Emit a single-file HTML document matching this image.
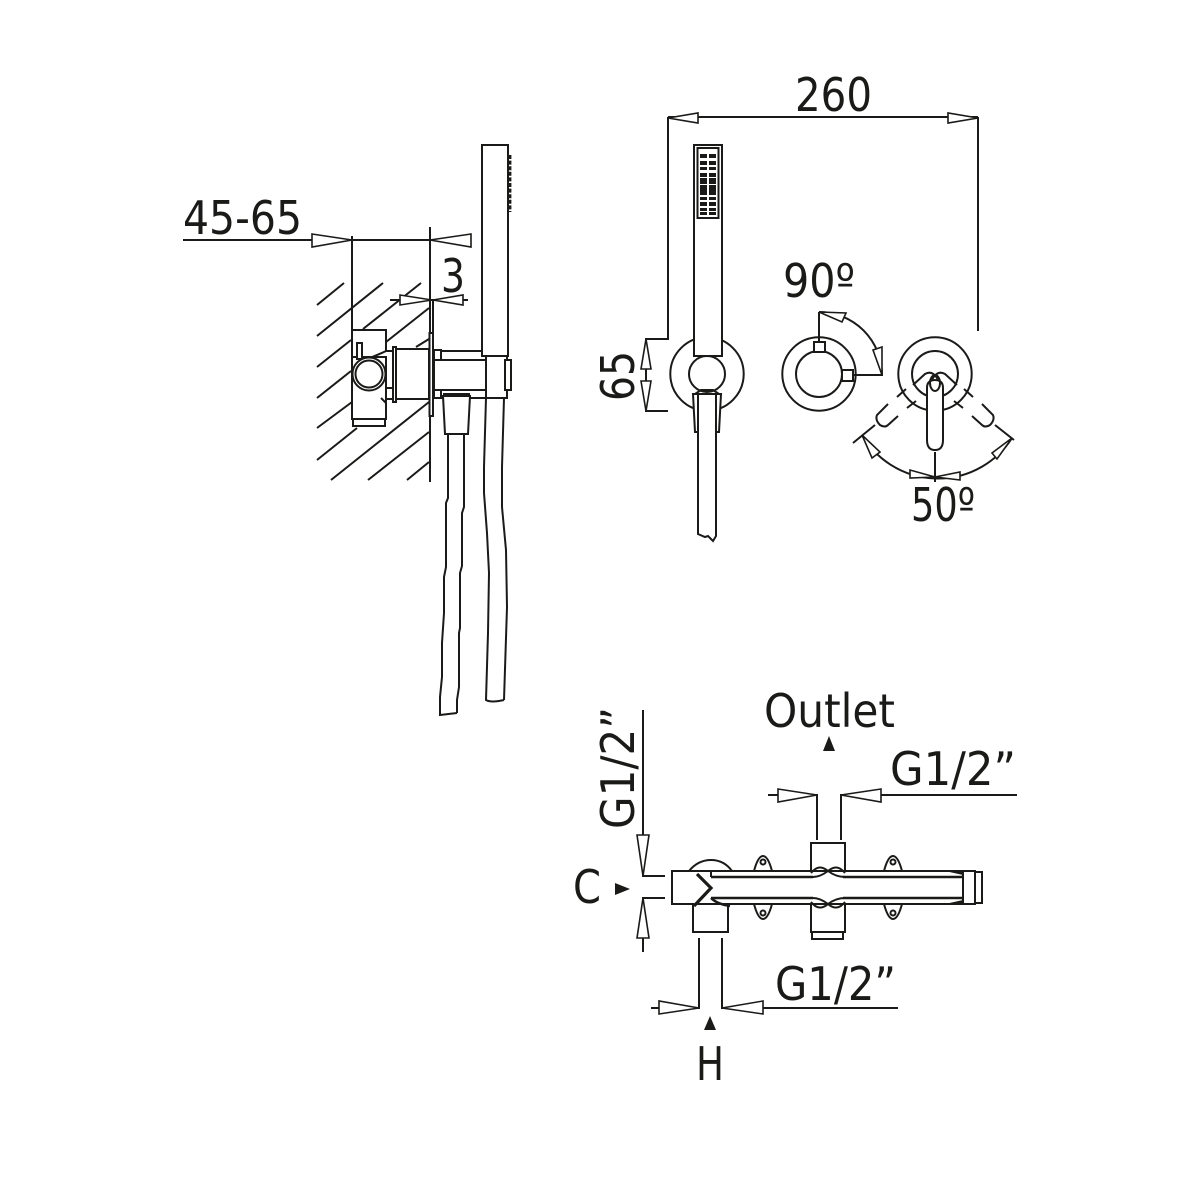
<!DOCTYPE html>
<html><head><meta charset="utf-8"><style>
html,body{margin:0;padding:0;background:#fff}
svg{display:block}
.l{fill:none;stroke:#1a1a18;stroke-width:2;stroke-linejoin:miter}
.w{fill:#fff;stroke:#1a1a18;stroke-width:2}
.a{fill:#fff;stroke:#1a1a18;stroke-width:1.6}
.f{fill:#1a1a18;stroke:none}
text{font-family:"DejaVu Sans",sans-serif;fill:#1a1a18;font-size:46px}
</style></head><body>
<svg width="1181" height="1181" viewBox="0 0 1181 1181" xmlns="http://www.w3.org/2000/svg">
<rect width="1181" height="1181" fill="#fff"/>

<!-- TEXT -->
<text x="183" y="234" textLength="119" lengthAdjust="spacingAndGlyphs">45-65</text>
<text x="441" y="292" textLength="24" lengthAdjust="spacingAndGlyphs">3</text>
<text x="795" y="111" textLength="77" lengthAdjust="spacingAndGlyphs">260</text>
<text x="783" y="297" textLength="72" lengthAdjust="spacingAndGlyphs">90º</text>
<text x="911" y="521" textLength="64" lengthAdjust="spacingAndGlyphs">50º</text>
<text transform="translate(634,401) rotate(-90)" textLength="50" lengthAdjust="spacingAndGlyphs">65</text>
<text transform="translate(634,829) rotate(-90)" textLength="122" lengthAdjust="spacingAndGlyphs">G1/2”</text>
<text x="764" y="727" textLength="131" lengthAdjust="spacingAndGlyphs">Outlet</text>
<text x="890" y="785" textLength="126" lengthAdjust="spacingAndGlyphs">G1/2”</text>
<text x="573" y="903" textLength="28" lengthAdjust="spacingAndGlyphs">C</text>
<text x="775" y="1000" textLength="121" lengthAdjust="spacingAndGlyphs">G1/2”</text>
<text x="696" y="1080" textLength="28" lengthAdjust="spacingAndGlyphs">H</text>

<!-- LEFT VIEW: hatch -->
<path class="l" d="M317 305L344 283M317 336L383 283M317 367L351 340M363 329L421 283M317 398L351 371M386 342L429 308M317 428L352 402M416 347L429 339M317 460L357 428M331 480L429 402M368 480L429 432M407 480L429 462"/>
<!-- dims -->
<path class="l" d="M183 240H430M352 236V330M430 227V482M390 300H468M433 300V333"/>
<path class="a" d="M352 240L312 234V247ZM430 240L471 234V247ZM432 300L400 295V305ZM433 300L463 295V305Z"/>
<!-- valve body -->
<path class="w" d="M352 330H386V351Q380 354 372 357H352ZM352 357H386V419H352Z"/>
<rect class="w" x="353" y="419" width="32" height="7"/>
<path class="l" d="M386 351H393M385 388H393M386 390V399H393M381 398L386 403"/>
<rect class="w" x="357" y="343" width="5" height="16"/>
<circle class="w" cx="369" cy="374" r="16.5"/>
<circle class="w" cx="369" cy="374" r="13.5"/>
<rect class="w" x="393" y="347" width="3" height="55"/>
<rect class="w" x="396" y="349" width="33" height="50"/>
<rect class="w" x="429.5" y="333" width="3.5" height="83"/>
<!-- arm and holder -->
<path class="l" d="M434 350H441V360M434 350V360M441 351H482M434 391V398H507M441 391V398"/>
<rect class="w" x="434" y="360" width="52" height="30"/>
<path class="w" d="M486 356H507V398H486Z"/>
<rect class="w" x="505" y="360" width="6" height="30"/>
<rect class="w" x="482" y="145" width="26" height="211"/>
<path d="M510 155V212" fill="none" stroke="#1a1a18" stroke-width="2.8" stroke-dasharray="4 1.6"/>
<!-- hose connector -->
<path class="l" d="M443 394H470" stroke-width="2"/>
<path class="w" d="M443 396H470L468 434H445Z"/>
<!-- hoses -->
<path class="l" d="M448 434V498L446 503V567L444 577V613L442 643V677L440 697V715L457 713M464 434V507L462 513V566L460 573V628L459 633V687L457 700V713"/>
<path class="l" d="M486 398L484 467V493L487 533L489 573L488 633L486 700Q491 703 504 700M504 398L502 467V507L506 550L507 607L504 700"/>

<!-- FRONT VIEW: dims -->
<path class="l" d="M668 117H978M668 117V339H645M668 411H645M646 339V411M978 117V331"/>
<path class="a" d="M668 118L698 113V123ZM978 118L948 113V123ZM646 339L641 369H651ZM646 411L641 381H651Z"/>
<!-- shower front -->
<circle class="w" cx="707" cy="374" r="36.7"/>
<circle class="w" cx="707" cy="374" r="18"/>
<path class="w" d="M694 145H722V356H694Z"/>
<rect class="w" x="697.5" y="148" width="21" height="70"/>
<g class="f">
<rect x="700" y="154" width="7" height="4"/><rect x="709" y="154" width="7" height="4"/>
<rect x="700" y="161" width="7" height="4"/><rect x="709" y="161" width="7" height="4"/>
<rect x="700" y="167" width="7" height="3"/><rect x="709" y="167" width="7" height="3"/>
<rect x="700" y="173" width="7" height="4"/><rect x="709" y="173" width="7" height="4"/>
<rect x="700" y="178" width="7" height="6"/><rect x="709" y="178" width="7" height="6"/>
<rect x="700" y="185" width="7" height="6"/><rect x="709" y="185" width="7" height="6"/>
<rect x="700" y="190" width="7" height="5"/><rect x="709" y="190" width="7" height="5"/>
<rect x="700" y="197" width="7" height="3"/><rect x="709" y="197" width="7" height="3"/>
<rect x="700" y="202" width="7" height="4"/><rect x="709" y="202" width="7" height="4"/>
<rect x="700" y="208" width="7" height="3"/><rect x="709" y="208" width="7" height="3"/>
<rect x="700" y="212" width="7" height="3"/><rect x="709" y="212" width="7" height="3"/>
</g>
<path class="w" d="M693 394H721L719 432H695Z"/>
<path class="w" d="M698 394H716V536L713 541L708 536L705 537L698 534Z"/>
<path class="l" d="M695 394L701 390H713L719 394"/>

<!-- 90 degree knob -->
<circle class="w" cx="819" cy="374" r="36.7"/>
<circle class="w" cx="819" cy="374" r="23"/>
<rect class="w" x="814" y="342" width="11" height="10"/>
<rect class="w" x="842" y="370" width="11" height="11"/>
<path class="l" d="M819 312V342M853 375H883M819 312A63 63 0 0 1 882 375"/>
<path class="a" d="M819 312L846 313L842 322ZM882 375L873 350L882 347Z"/>

<!-- lever knob -->
<circle class="w" cx="935" cy="374" r="36.7"/>
<circle class="w" cx="935" cy="374" r="23"/>
<path class="l" d="M913 385L925 374Q932 370 937 378Q941 386 935 392M957 385L945 374Q938 370 933 378Q929 386 935 392"/>
<path class="w" d="M927 388Q927 380 935 380Q943 380 943 388V440Q943 450 935 450Q927 450 927 440Z"/>
<ellipse class="l" cx="935" cy="383" rx="5" ry="8"/>
<path class="w" d="M897 397L906 389M907 408L916 401M888 404L877 415Q875 420 880 425Q885 428 888 425L898 416M973 397L964 389M963 408L954 401M982 404L993 415Q995 420 990 425Q985 428 982 425L972 416" fill="none"/>
<path class="l" d="M875 425L853 443M995 425L1014 440M935 452V482M862 435A88 88 0 0 0 1012 438"/>
<path class="a" d="M862 435L872 458L880 452ZM1012 438L992 453L997 459ZM935 477L910 470V478ZM935 477L960 472V480Z"/>

<!-- BOTTOM VIEW -->
<path class="l" d="M768 795H817V840M841 840V795H1017M699 938V1008H651M722 938V1008H898M643 710V876H665M665 898H643V952"/>
<path class="a" d="M817 795L778 789V802ZM841 795L881 789V802ZM699 1008L659 1001V1014ZM722 1008L763 1001V1014ZM643 876L637 835H649ZM643 898L637 938H649Z"/>
<path class="f" d="M630 889L615 883V895ZM710 1016L704 1030H716ZM829 736L823 751H835Z"/>
<!-- clamps -->
<path class="w" d="M754 871Q758 856 763 856Q768 856 772 871ZM884 871Q888 856 893 856Q898 856 902 871ZM754 904Q758 919 763 919Q768 919 772 904ZM884 904Q888 919 893 919Q898 919 902 904Z"/>
<circle class="w" cx="763" cy="862" r="2.5"/><circle class="w" cx="893" cy="862" r="2.5"/>
<circle class="w" cx="763" cy="913" r="2.5"/><circle class="w" cx="893" cy="913" r="2.5"/>
<!-- dome -->
<path class="w" d="M689 871Q698 860 711 860Q724 860 732 871Z"/>
<!-- centre block -->
<rect class="w" x="811" y="843" width="34" height="28"/>
<rect class="w" x="811" y="904" width="34" height="28"/>
<rect class="w" x="812" y="932" width="31" height="7"/>
<!-- lower box -->
<rect class="w" x="693" y="904" width="35" height="28"/>
<!-- main bar -->
<path class="w" d="M672 871H975V904H672Z"/>
<path d="M711 877H813M843 877H963M711 898H813M843 898H963" fill="none" stroke="#1a1a18" stroke-width="2.4"/>
<path class="l" d="M711 871V877M963 871V904"/>
<path class="w" d="M975 872H982V903H975Z"/>
<path class="f" d="M945 871L963 875V871ZM945 904L963 900V904Z"/>
<!-- chevron -->
<path d="M697 874L711 888L694 906" fill="#fff" stroke="#1a1a18" stroke-width="3.2"/>
<path d="M711 898Q717 904 730 906" fill="none" stroke="#1a1a18" stroke-width="2.6"/>
<!-- centre knot -->
<path d="M813 872H843V903H813Z" fill="#fff"/>
<path class="l" d="M811 873Q819 863 828 871Q836 877 845 877M813 877Q820 877 828 871Q837 863 845 873M811 902Q819 912 828 904Q836 898 845 898M813 898Q820 898 828 904Q837 912 845 902"/>
</svg>
</body></html>
